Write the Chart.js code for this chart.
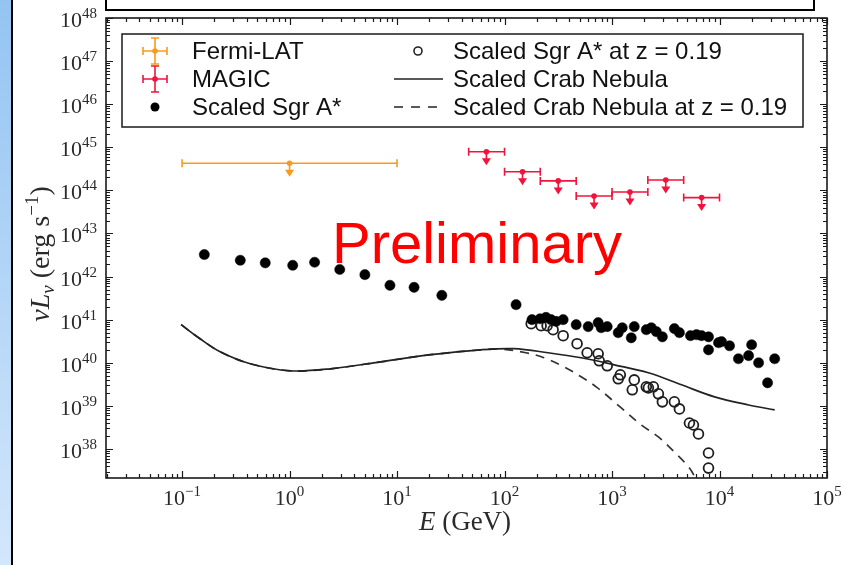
<!DOCTYPE html>
<html>
<head>
<meta charset="utf-8">
<script src="https://cdn.jsdelivr.net/npm/chart.js@4.4.0/dist/chart.umd.min.js"></script>
<style>
  body { margin: 0; background: #fff; }
  #wrap { position: relative; width: 846px; height: 565px; overflow: hidden; background: #fff; }
  #strip { position: absolute; left: 0; top: 0; width: 11px; height: 565px;
           background: linear-gradient(to bottom, #94c4f2, #d3e7fb); }
  #vline { position: absolute; left: 11px; top: 0; width: 2px; height: 565px; background: #000; }
  #topbox { position: absolute; left: 105px; top: -3px; width: 706px; height: 10px; border: 2px solid #000; }
  canvas { position: absolute; left: 0; top: 0; }
</style>
</head>
<body>
<div id="wrap">
  <div id="strip"></div>
  <div id="vline"></div>
  <div id="topbox"></div>
  <canvas id="sed" width="846" height="565"></canvas>
</div>
<script>
// axis ranges (GeV, erg/s)
const xMin = 0.0196, xMax = 1e5;
const yMin = 2.12e37, yMax = 1e48;
const xPowers = [-1, 0, 1, 2, 3, 4, 5];
const yPowers = [38, 39, 40, 41, 42, 43, 44, 45, 46, 47, 48];

// Fermi-LAT upper limit
const fermiE = [1.0];
const fermiELow = [0.1];
const fermiEHigh = [10];
const fermiL = [4.25e44];

// MAGIC upper limits
const magicE = [67.8, 147, 316, 681, 1468, 3162, 6813];
const magicELow = [46.4, 100, 215, 464, 1000, 2154, 4642];
const magicEHigh = [100, 215, 464, 1000, 2154, 4642, 10000];
const magicL = [7.9e44, 2.7e44, 1.66e44, 7.4e43, 9.2e43, 1.74e44, 6.8e43];

// Scaled Sgr A*
const sgrE = [0.161, 0.348, 0.594, 1.07, 1.71, 2.93, 5.02, 8.59, 14.4, 26.1,
  128, 180, 214, 243, 271, 302, 351, 464, 600, 743, 793, 902, 1142, 1245, 1510, 1610,
  2084, 2322, 2585, 2940, 3802, 4236, 5370, 6110, 6800, 7900, 7900, 9790, 10440, 12400,
  15000, 18650, 19900, 23100, 28000, 32600];
const sgrL = [3.25e42, 2.39e42, 2.08e42, 1.83e42, 2.15e42, 1.46e42, 1.11e42, 6.28e41, 5.64e41, 3.67e41,
  2.23e41, 1.0e41, 1.05e41, 1.13e41, 1.0e41, 9.1e40, 1.0e41, 7.65e40, 6.9e40, 8.5e40, 6.5e40, 6.9e40, 4.99e40, 6.5e40, 3.8e40, 6.9e40,
  5.85e40, 6.5e40, 5.26e40, 4.0e40, 6.2e40, 4.99e40, 4.25e40, 4.48e40, 4.25e40, 4.0e40, 2.0e40, 2.92e40, 3.08e40, 2.48e40,
  1.24e40, 1.46e40, 2.62e40, 1.0e40, 3.43e39, 1.24e40];

// Scaled Sgr A* at z = 0.19
const sgrZE = [177, 219, 249, 283, 351, 473, 587, 743, 760, 902, 1142, 1194, 1543, 1610,
  2084, 2178, 2423, 2700, 2940, 3802, 4236, 5250, 5720, 6370, 7900, 7900];
const sgrZL = [8.07e40, 7.25e40, 7.25e40, 5.85e40, 4.25e40, 2.77e40, 1.71e40, 1.62e40, 1.11e40, 8.5e39, 4.25e39, 5.26e39, 2.36e39, 4.0e39,
  2.77e39, 2.62e39, 2.77e39, 1.9e39, 1.24e39, 1.24e39, 8.5e38, 4.0e38, 3.6e38, 2.23e38, 8.07e37, 3.6e37];

// Scaled Crab Nebula
const crabE = [0.098, 0.147, 0.226, 0.431, 1.02, 2.4, 7.03, 20.6, 60.2, 122, 254, 516, 1050, 2178, 4426, 9000, 18650, 32600];
const crabL = [7.65e40, 3.61e40, 1.8e40, 9.5e39, 6.52e39, 7.25e39, 1.05e40, 1.54e40, 2.0e40, 2.12e40, 1.71e40, 1.31e40, 8.97e39, 5.85e39, 3.08e39, 1.62e39, 1.05e39, 8.07e38];

// Scaled Crab Nebula at z = 0.19
const crabZE = [0.098, 0.147, 0.226, 0.431, 1.02, 2.4, 7.03, 20.6, 60.2, 92.5, 158, 233, 358, 516, 713, 1219, 1870, 2700, 3802, 5250, 6100];
const crabZL = [7.65e40, 3.61e40, 1.8e40, 9.5e39, 6.52e39, 7.25e39, 1.05e40, 1.54e40, 2.0e40, 2.08e40, 1.71e40, 1.31e40, 8.07e39, 4.72e39, 2.77e39, 8.97e38, 3.6e38, 1.9e38, 8.5e37, 3.6e37, 1.9e37];

const orange = '#f99a1f';
const red = '#f0143c';
const ink = '#1a1a1a';

function pts(xs, ys) {
  return xs.map(function (x, i) { return { x: x, y: ys[i] }; });
}

// minor + major log ticks between the bounds
function logTicks(lo, hi) {
  const out = [];
  for (let n = Math.floor(Math.log10(lo)); n <= Math.ceil(Math.log10(hi)); n++) {
    for (let k = 1; k <= 9; k++) {
      const v = k * Math.pow(10, n);
      if (v >= lo * 0.9999 && v <= hi * 1.0001) out.push({ value: v, major: k === 1 });
    }
  }
  return out;
}

function drawPower(ctx, exp, x, y, align, baseFont, supFont, rise) {
  const sup = String(exp).replace('-', '\u2212');
  ctx.font = baseFont;
  const w1 = ctx.measureText('10').width;
  ctx.font = supFont;
  const w2 = ctx.measureText(sup).width;
  const x0 = align === 'right' ? x - w1 - w2 : x - (w1 + w2) / 2;
  ctx.textAlign = 'left';
  ctx.textBaseline = 'alphabetic';
  ctx.font = baseFont;
  ctx.fillText('10', x0, y);
  ctx.font = supFont;
  ctx.fillText(sup, x0 + w1, y - rise);
}

// segments: [text, font, dy]
function drawRich(ctx, segs, cx, y) {
  let total = 0;
  segs.forEach(function (s) { ctx.font = s[1]; total += ctx.measureText(s[0]).width; });
  let x = cx - total / 2;
  ctx.textAlign = 'left';
  ctx.textBaseline = 'alphabetic';
  segs.forEach(function (s) {
    ctx.font = s[1];
    ctx.fillText(s[0], x, y + s[2]);
    x += ctx.measureText(s[0]).width;
  });
}

const framePlugin = {
  id: 'frame',
  afterDraw(chart) {
    const ctx = chart.ctx;
    const a = chart.chartArea;
    const sx = chart.scales.x, sy = chart.scales.y;
    ctx.save();
    ctx.strokeStyle = ink;
    ctx.fillStyle = ink;
    // ticks pointing inward on every side
    ctx.lineWidth = 1.2;
    sx.ticks.forEach(function (t) {
      const px = Math.round(sx.getPixelForValue(t.value)) + 0.5;
      const len = t.major ? 7 : 4;
      ctx.beginPath();
      ctx.moveTo(px, a.bottom); ctx.lineTo(px, a.bottom - len);
      ctx.moveTo(px, a.top); ctx.lineTo(px, a.top + len);
      ctx.stroke();
    });
    sy.ticks.forEach(function (t) {
      const py = Math.round(sy.getPixelForValue(t.value)) + 0.5;
      const len = t.major ? 7 : 4;
      ctx.beginPath();
      ctx.moveTo(a.left, py); ctx.lineTo(a.left + len, py);
      ctx.moveTo(a.right, py); ctx.lineTo(a.right - len, py);
      ctx.stroke();
    });
    ctx.lineWidth = 1.6;
    ctx.strokeRect(a.left, a.top, a.right - a.left, a.bottom - a.top);

    // tick labels
    ctx.fillStyle = '#2a2a2a';
    xPowers.forEach(function (p) {
      const px = sx.getPixelForValue(Math.pow(10, p));
      drawPower(ctx, p, px, a.bottom + 27, 'center', '22px "Liberation Serif"', '15px "Liberation Serif"', 9);
    });
    yPowers.forEach(function (p) {
      const py = sy.getPixelForValue(Math.pow(10, p));
      drawPower(ctx, p, a.left - 9, py + 9, 'right', '22px "Liberation Serif"', '15px "Liberation Serif"', 9);
    });

    // axis titles
    drawRich(ctx, [
      ['E', 'italic 27px "Liberation Serif"', 0],
      [' (GeV)', '27px "Liberation Serif"', 0]
    ], 465, 530);
    ctx.save();
    ctx.translate(49, 254);
    ctx.rotate(-Math.PI / 2);
    drawRich(ctx, [
      ['\u03bd', 'italic 28px "Liberation Serif"', 0],
      ['L', 'italic 28px "Liberation Serif"', 0],
      ['\u03bd', 'italic 19px "Liberation Serif"', 5],
      [' (erg s', '28px "Liberation Serif"', 0],
      ['\u22121', '19px "Liberation Serif"', -11],
      [')', '28px "Liberation Serif"', 0]
    ], 0, 0);
    ctx.restore();

    // watermark
    ctx.fillStyle = '#ff0000';
    ctx.font = '58px "Liberation Sans"';
    ctx.textAlign = 'center';
    ctx.textBaseline = 'alphabetic';
    ctx.fillText('Preliminary', 477, 263);
    ctx.restore();
  }
};

// horizontal bins + downward arrows for the upper limits
function drawLimit(ctx, x, xl, xh, y, color, handle) {
  ctx.strokeStyle = color;
  ctx.fillStyle = color;
  ctx.lineWidth = 1.6;
  ctx.beginPath();
  ctx.moveTo(xl, y); ctx.lineTo(xh, y);
  ctx.moveTo(xl, y - 4); ctx.lineTo(xl, y + 4);
  ctx.moveTo(xh, y - 4); ctx.lineTo(xh, y + 4);
  ctx.stroke();
  if (handle) {
    ctx.beginPath();
    ctx.moveTo(x, y - 13); ctx.lineTo(x, y + 13);
    ctx.moveTo(x - 4, y - 13); ctx.lineTo(x + 4, y - 13);
    ctx.moveTo(x - 4, y + 13); ctx.lineTo(x + 4, y + 13);
    ctx.stroke();
  } else {
    ctx.beginPath();
    ctx.moveTo(x, y); ctx.lineTo(x, y + 8);
    ctx.stroke();
    ctx.beginPath();
    ctx.moveTo(x - 4.5, y + 6.5); ctx.lineTo(x + 4.5, y + 6.5); ctx.lineTo(x, y + 13.5);
    ctx.closePath();
    ctx.fill();
  }
  ctx.beginPath();
  ctx.arc(x, y, 2.8, 0, Math.PI * 2);
  ctx.fill();
}

const limitPlugin = {
  id: 'limits',
  afterDatasetsDraw(chart) {
    const ctx = chart.ctx;
    const a = chart.chartArea;
    const sx = chart.scales.x, sy = chart.scales.y;
    ctx.save();
    ctx.beginPath();
    ctx.rect(a.left, a.top, a.right - a.left, a.bottom - a.top);
    ctx.clip();
    chart.data.datasets.forEach(function (ds) {
      if (!ds.xLow) return;
      ds.data.forEach(function (p, i) {
        drawLimit(ctx, sx.getPixelForValue(p.x), sx.getPixelForValue(ds.xLow[i]),
          sx.getPixelForValue(ds.xHigh[i]), sy.getPixelForValue(p.y), ds.borderColor, false);
      });
    });
    ctx.restore();
  }
};

const legendPlugin = {
  id: 'boxLegend',
  afterDraw(chart) {
    const ctx = chart.ctx;
    const ds = chart.data.datasets;
    const rows = [51, 79, 107];
    ctx.save();
    ctx.fillStyle = '#fff';
    ctx.fillRect(122, 34, 681, 93);
    ctx.strokeStyle = ink;
    ctx.lineWidth = 1.5;
    ctx.strokeRect(122, 34, 681, 93);

    ctx.font = '24px "Liberation Sans"';
    ctx.textBaseline = 'middle';
    ctx.textAlign = 'left';
    // column one
    drawLimit(ctx, 155, 143, 167, rows[0], ds[0].borderColor, true);
    drawLimit(ctx, 155, 143, 167, rows[1], ds[1].borderColor, true);
    ctx.fillStyle = '#000';
    ctx.beginPath(); ctx.arc(155, rows[2], 4.5, 0, Math.PI * 2); ctx.fill();
    ctx.fillStyle = '#111';
    ctx.fillText(ds[0].label, 192, rows[0] + 1);
    ctx.fillText(ds[1].label, 192, rows[1] + 1);
    ctx.fillText(ds[2].label, 192, rows[2] + 1);
    // column two
    ctx.strokeStyle = '#222';
    ctx.lineWidth = 1.6;
    ctx.beginPath(); ctx.arc(418, rows[0], 4, 0, Math.PI * 2); ctx.stroke();
    ctx.beginPath(); ctx.moveTo(394, rows[1]); ctx.lineTo(443, rows[1]); ctx.stroke();
    ctx.setLineDash([9, 8]);
    ctx.beginPath(); ctx.moveTo(394, rows[2]); ctx.lineTo(443, rows[2]); ctx.stroke();
    ctx.setLineDash([]);
    ctx.fillText(ds[3].label, 453, rows[0] + 1);
    ctx.fillText(ds[4].label, 453, rows[1] + 1);
    ctx.fillText(ds[5].label, 453, rows[2] + 1);
    ctx.restore();
  }
};

const config = {
  type: 'scatter',
  data: {
    datasets: [
      {
        label: 'Fermi-LAT',
        data: pts(fermiE, fermiL),
        xLow: fermiELow, xHigh: fermiEHigh,
        borderColor: orange, backgroundColor: orange,
        pointRadius: 0
      },
      {
        label: 'MAGIC',
        data: pts(magicE, magicL),
        xLow: magicELow, xHigh: magicEHigh,
        borderColor: red, backgroundColor: red,
        pointRadius: 0
      },
      {
        label: 'Scaled Sgr A*',
        data: pts(sgrE, sgrL),
        backgroundColor: '#000', borderColor: '#000',
        pointRadius: 5.1, borderWidth: 0.5
      },
      {
        label: 'Scaled Sgr A* at z = 0.19',
        data: pts(sgrZE, sgrZL),
        backgroundColor: 'rgba(0,0,0,0)', borderColor: '#1e1e1e',
        pointRadius: 4.9, borderWidth: 1.8
      },
      {
        label: 'Scaled Crab Nebula',
        type: 'line',
        data: pts(crabE, crabL),
        borderColor: '#222', borderWidth: 1.7,
        pointRadius: 0, tension: 0.35, fill: false
      },
      {
        label: 'Scaled Crab Nebula at z = 0.19',
        type: 'line',
        data: pts(crabZE, crabZL),
        borderColor: '#333', borderWidth: 1.7, borderDash: [9, 7],
        pointRadius: 0, tension: 0.35, fill: false
      }
    ]
  },
  options: {
    responsive: false,
    animation: false,
    events: [],
    layout: { padding: { left: 0, right: 19, top: 18, bottom: 0 } },
    plugins: { legend: { display: false }, tooltip: { enabled: false } },
    scales: {
      x: {
        type: 'logarithmic',
        min: xMin, max: xMax, bounds: 'data',
        grid: { display: false },
        border: { display: false },
        ticks: { display: false },
        afterBuildTicks: function (s) { s.ticks = logTicks(xMin, xMax); },
        afterFit: function (s) { s.height = 87; }
      },
      y: {
        type: 'logarithmic',
        min: yMin, max: yMax, bounds: 'data',
        grid: { display: false },
        border: { display: false },
        ticks: { display: false },
        afterBuildTicks: function (s) { s.ticks = logTicks(yMin, yMax); },
        afterFit: function (s) { s.width = 106; }
      }
    }
  },
  plugins: [limitPlugin, framePlugin, legendPlugin]
};

new Chart(document.getElementById('sed'), config);
</script>
</body>
</html>
